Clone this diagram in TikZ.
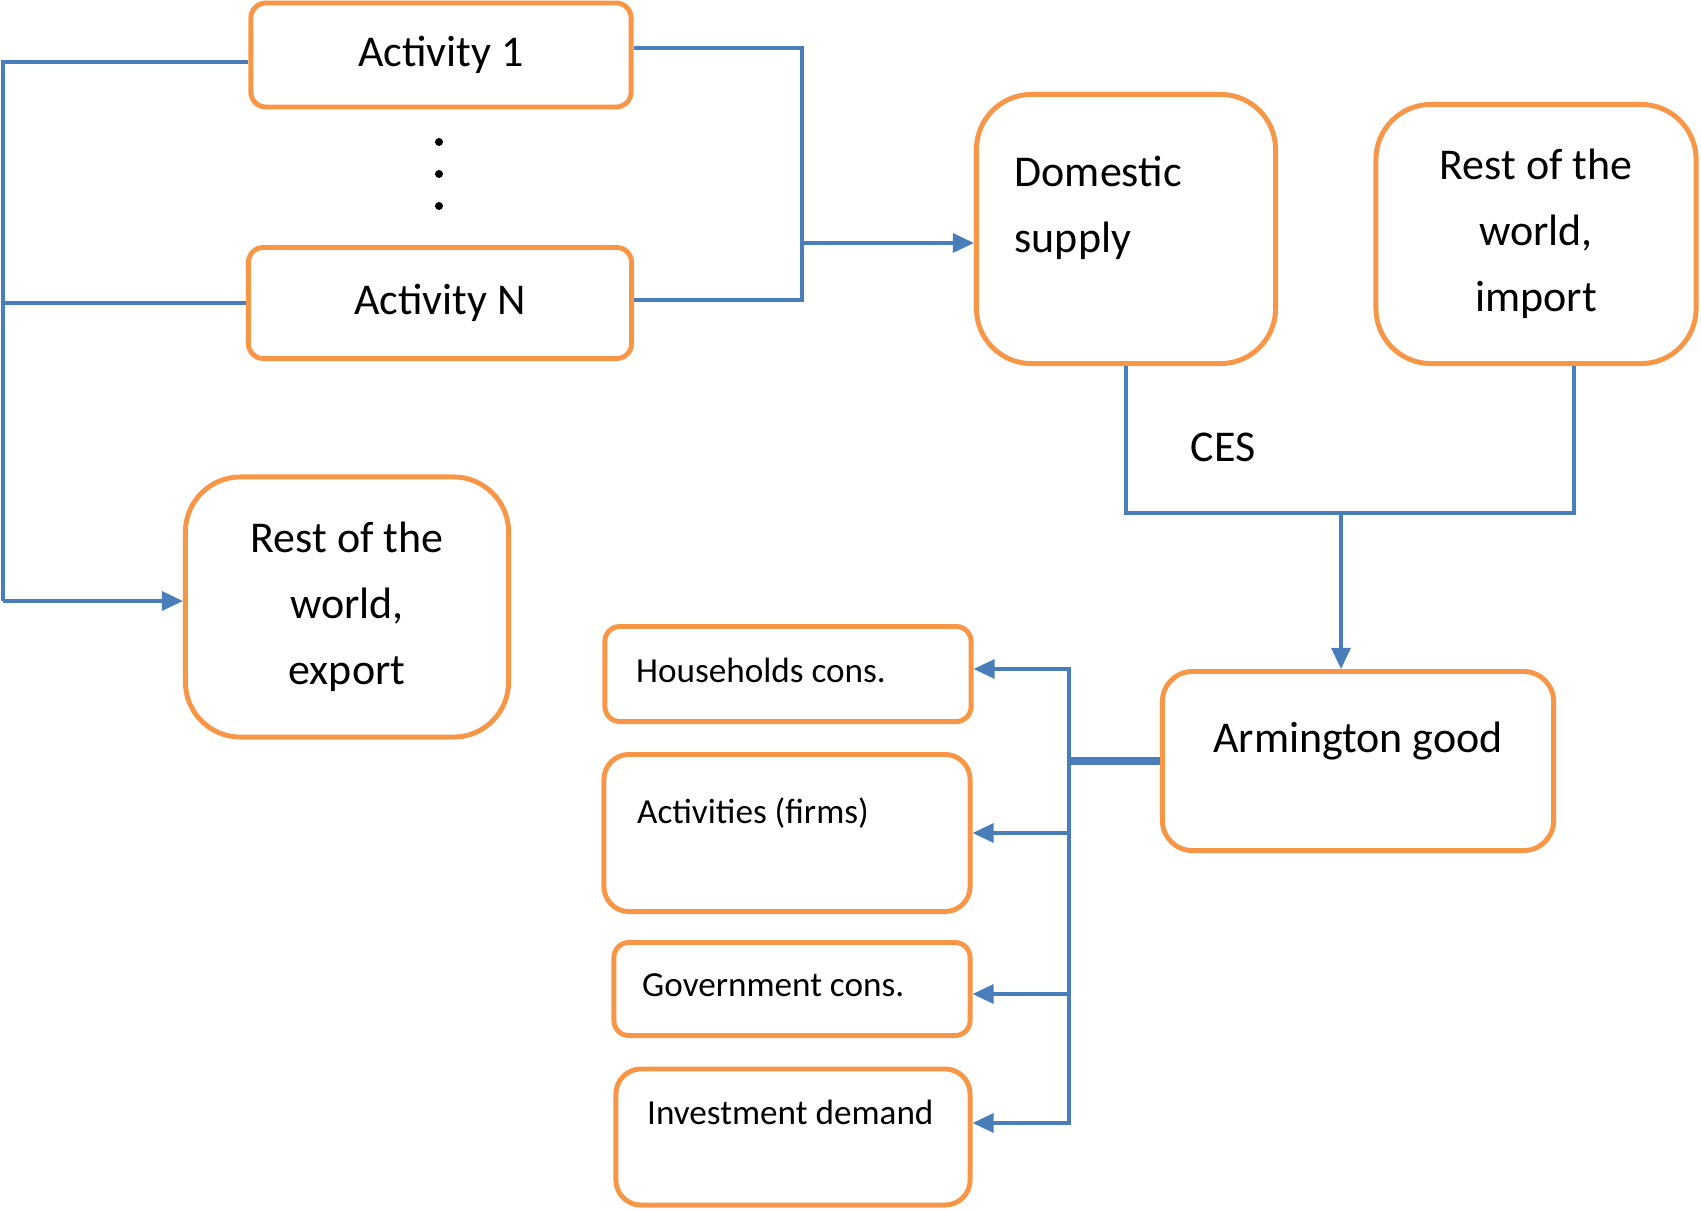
\documentclass[tikz,border=0pt]{standalone}
\usepackage{fontspec}
\setmainfont{Carlito}
\usetikzlibrary{arrows.meta}
\definecolor{boxorange}{HTML}{F79646}
\definecolor{linkblue}{HTML}{4A7EBB}

\begin{document}
\begin{tikzpicture}[x=0.01cm,y=-0.01cm,
	box/.style={draw=boxorange,line width=1.4pt,rounded corners=0.15cm,fill=white},
	bigbox/.style={box,rounded corners=0.55cm},
	big/.style={font=\fontsize{12.5}{18.8}\selectfont},
	small/.style={font=\fontsize{10}{12}\selectfont},
	link/.style={draw=linkblue,line width=0.9pt},
	arr/.style={link,-{Triangle[length=2.1mm,width=1.9mm]}},
	inside/.style={anchor=north west,inner sep=0pt}]
	\useasboundingbox (0,0) rectangle (1701,1209);
	% activities
	\node[box,big,minimum width=3.80cm,minimum height=1.04cm] (act1) at (441,55) {Activity 1};
	\node[box,big,minimum width=3.83cm,minimum height=1.11cm] (actN) at (440,303) {Activity N};
	\foreach \y in {142,174,206}
		\fill (439,\y) circle (0.04cm);
	% supply side
	\node[bigbox,minimum width=2.99cm,minimum height=2.69cm,
		label={[inside,big,align=left,xshift=0.40cm,yshift=-0.63cm]north west:Domestic\\supply}] (dom) at (1126,229) {};
	\node[bigbox,big,align=center,minimum width=3.20cm,minimum height=2.59cm] (imp) at (1536,234) {Rest of the\\world,\\import};
	\node[bigbox,big,align=center,minimum width=3.23cm,minimum height=2.60cm] (exp) at (347,607) {Rest of the\\world,\\export};
	\node[big] (ces) at (1223,447) {CES};
	\node[box,rounded corners=0.3cm,minimum width=3.91cm,minimum height=1.79cm,
		label={[inside,big,anchor=north,yshift=-0.52cm]north:Armington good}] (arm) at (1358,761) {};
	% demand side
	\node[box,minimum width=3.66cm,minimum height=0.95cm,
		label={[inside,small,anchor=west,xshift=0.33cm,yshift=0.04cm]west:Households cons.}] (hh) at (788,674) {};
	\node[box,rounded corners=0.25cm,minimum width=3.66cm,minimum height=1.57cm,
		label={[inside,small,xshift=0.35cm,yshift=-0.45cm]north west:Activities (firms)}] (firms) at (787,833) {};
	\node[box,minimum width=3.56cm,minimum height=0.93cm,
		label={[inside,small,anchor=west,xshift=0.30cm,yshift=0.04cm]west:Government cons.}] (gov) at (792,989) {};
	\node[box,rounded corners=0.25cm,minimum width=3.54cm,minimum height=1.36cm,
		label={[inside,small,xshift=0.33cm,yshift=-0.33cm]north west:Investment demand}] (inv) at (793,1137) {};
	% connectors
	\coordinate (supply) at (802,243);
	\draw[link] ([yshift=0.07cm]act1.east) -| (supply);
	\draw[link] ([yshift=0.03cm]actN.east) -| (supply);
	\draw[arr] (supply) -- (supply -| dom.west);
	\coordinate (exportline) at (3,601);
	\draw[link] ([yshift=-0.07cm]act1.west) -| (exportline);
	\draw[link] (actN.west) -- (actN.west -| exportline);
	\draw[arr] (exportline) -- (exportline -| exp.west);
	\coordinate (cesjoin) at (1341,513);
	\draw[link] (dom.south) |- (cesjoin);
	\draw[link] ([xshift=0.38cm]imp.south) |- (cesjoin);
	\draw[arr] (cesjoin) -- (cesjoin |- arm.north);
	\coordinate (fork) at (1069,761);
	\draw[link,line width=2pt] (arm.west) -- (fork);
	\draw[arr] (fork) |- ([yshift=0.05cm]hh.east);
	\draw[arr] (fork) |- (firms.east);
	\draw[arr] (fork) |- ([yshift=-0.05cm]gov.east);
	\draw[arr] (fork) |- ([yshift=0.14cm]inv.east);
\end{tikzpicture}
\end{document}
